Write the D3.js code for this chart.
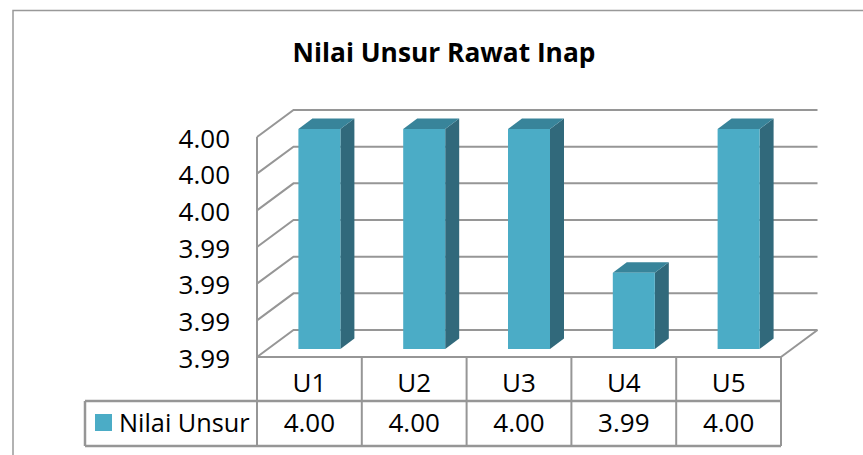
<!DOCTYPE html>
<html>
<head>
<meta charset="utf-8">
<script src="https://cdn.jsdelivr.net/npm/d3@7"></script>
<style>
  html, body { margin: 0; padding: 0; background: #fff; }
  text { font-family: "Open Sans", sans-serif; fill: #000; }
  .axis path, .axis line { display: none; }
</style>
</head>
<body>
<div id="vis"></div>
<script>
var width = 863;
var height = 455;

var chartTitle = 'Nilai Unsur Rawat Inap';
var seriesName = 'Nilai Unsur';
var categories = ['U1', 'U2', 'U3', 'U4', 'U5'];
var seriesValues = [4.00, 4.00, 4.00, 3.9902, 4.00];
var tickValues = [3.985, 3.9875, 3.99, 3.9925, 3.995, 3.9975, 4.00];
var tickLabels = ['3.99', '3.99', '3.99', '3.99', '4.00', '4.00', '4.00'];

// front plane of the 3d box, and how far back it goes
var plot = { left: 257, right: 781, top: 137, bottom: 357 };
var depth = { x: 36.5, y: -27 };
var bar = { width: 42, dx: 14, dy: -10.5, shiftX: 10, shiftY: -8 };
var table = { left: 85, row1: 401, row2: 446 };

var gridColor = '#969696';
var barFront = '#4bacc6';
var barSide = '#31697b';
var barTop = '#38849a';

var svg = d3.select('#vis').append('svg')
  .attr('width', width)
  .attr('height', height)
  .style('display', 'block');

var x = d3.scaleBand()
  .domain(categories)
  .range([plot.left, plot.right]);

var y = d3.scaleLinear()
  .domain([tickValues[0], tickValues[tickValues.length - 1]])
  .range([plot.bottom, plot.top]);

// outer chart border, only top and left show up in the crop
svg.append('path')
  .attr('d', 'M13,' + height + 'V10.5H' + width)
  .attr('fill', 'none')
  .attr('stroke', '#999')
  .attr('stroke-width', 1.5);

// grid: one diagonal on the side wall + one line on the back wall per tick
var grid = svg.append('g')
  .attr('fill', 'none')
  .attr('stroke', gridColor)
  .attr('stroke-width', 2);

grid.selectAll('path.tick-line')
  .data(tickValues)
  .enter().append('path')
  .attr('class', 'tick-line')
  .attr('d', function (d) {
    return 'M' + plot.left + ',' + y(d) +
      'L' + (plot.left + depth.x) + ',' + (y(d) + depth.y) +
      'H' + (plot.right + depth.x);
  });

grid.append('path')
  .attr('d', 'M' + plot.left + ',' + plot.top + 'V' + plot.bottom);

// floor edge on the right
grid.append('path')
  .attr('d', 'M' + plot.right + ',' + plot.bottom +
    'L' + (plot.right + depth.x) + ',' + (plot.bottom + depth.y));

// bars
var bars = svg.selectAll('g.bar')
  .data(seriesValues)
  .enter().append('g')
  .attr('class', 'bar')
  .attr('transform', function (d, i) {
    var cx = x(categories[i]) + x.bandwidth() / 2 + bar.shiftX;
    return 'translate(' + (cx - bar.width / 2) + ',' + bar.shiftY + ')';
  });

bars.append('path')
  .attr('fill', barSide)
  .attr('d', function (d) {
    return 'M' + bar.width + ',' + y(d) +
      'l' + bar.dx + ',' + bar.dy +
      'V' + (plot.bottom + bar.dy) +
      'l' + (-bar.dx) + ',' + (-bar.dy) + 'Z';
  });

bars.append('path')
  .attr('fill', barTop)
  .attr('d', function (d) {
    return 'M0,' + y(d) +
      'l' + bar.dx + ',' + bar.dy +
      'h' + bar.width +
      'l' + (-bar.dx) + ',' + (-bar.dy) + 'Z';
  });

bars.append('rect')
  .attr('fill', barFront)
  .attr('x', 0)
  .attr('width', bar.width)
  .attr('y', function (d) { return y(d); })
  .attr('height', function (d) { return plot.bottom - y(d); });

// y axis labels
var yAxis = d3.axisLeft(y)
  .tickValues(tickValues)
  .tickSize(0)
  .tickPadding(0)
  .tickFormat(function (d, i) { return tickLabels[i]; });

svg.append('g')
  .attr('class', 'axis')
  .attr('transform', 'translate(230,2)')
  .call(yAxis)
  .selectAll('text')
  .style('font-size', '26px')
  .style('font-family', '"Open Sans", sans-serif')
  .style('fill', '#000');

// data table lines
var tableLines = svg.append('g')
  .attr('fill', 'none')
  .attr('stroke', gridColor)
  .attr('stroke-width', 2);

tableLines.append('path')
  .attr('d', 'M' + plot.left + ',' + plot.bottom + 'H' + plot.right);

// the value row is drawn a bit heavier in the original
tableLines.append('path')
  .attr('stroke-width', 2.5)
  .attr('d', 'M' + table.left + ',' + table.row1 + 'H' + plot.right +
    'M' + table.left + ',' + table.row2 + 'H' + plot.right +
    'M' + table.left + ',' + table.row1 + 'V' + table.row2);

tableLines.selectAll('path.col')
  .data(categories.concat(['end']))
  .enter().append('path')
  .attr('class', 'col')
  .attr('d', function (d, i) {
    var px = plot.left + i * x.bandwidth();
    return 'M' + px + ',' + plot.bottom + 'V' + table.row2;
  });

// category row
var catAxis = d3.axisBottom(x).tickSize(0).tickPadding(0);

svg.append('g')
  .attr('class', 'axis')
  .attr('transform', 'translate(0,' + (plot.bottom + 17) + ')')
  .call(catAxis)
  .selectAll('text')
  .style('font-size', '26px')
  .style('font-family', '"Open Sans", sans-serif')
  .style('fill', '#000');

// value row
svg.selectAll('text.val')
  .data(seriesValues)
  .enter().append('text')
  .attr('class', 'val')
  .attr('x', function (d, i) { return x(categories[i]) + x.bandwidth() / 2; })
  .attr('y', 432)
  .attr('text-anchor', 'middle')
  .style('font-size', '26px')
  .text(function (d) { return d.toFixed(2); });

// legend key in the table
svg.append('rect')
  .attr('x', 95)
  .attr('y', 414)
  .attr('width', 17)
  .attr('height', 17)
  .attr('fill', barFront);

svg.append('text')
  .attr('x', 119)
  .attr('y', 432)
  .style('font-size', '25.3px')
  .text(seriesName);

// title
svg.append('text')
  .attr('x', 444)
  .attr('y', 62)
  .attr('text-anchor', 'middle')
  .style('font-size', '26.3px')
  .style('font-weight', 700)
  .text(chartTitle);
</script>
</body>
</html>
